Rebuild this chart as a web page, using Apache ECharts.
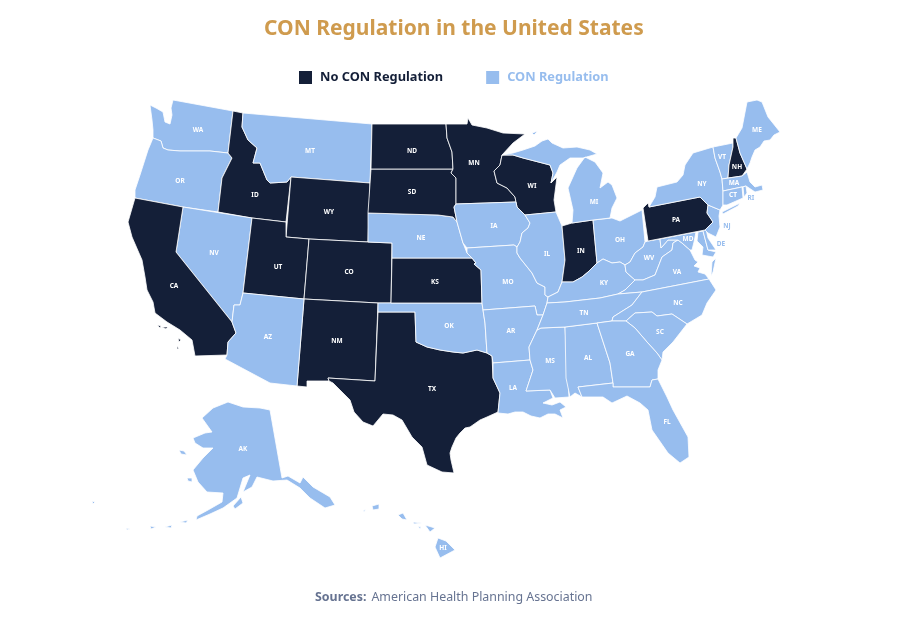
<!DOCTYPE html>
<html>
<head>
<meta charset="utf-8">
<title>CON Regulation in the United States</title>
<script src="https://cdn.jsdelivr.net/npm/echarts@6/dist/echarts.min.js"></script>
<style>
  html, body { margin: 0; padding: 0; background: #fff; }
  #chart { width: 904px; height: 622px; }
</style>
</head>
<body>
<div id="chart"></div>
<script>
// Categories
const noConStates = ['ID', 'WY', 'UT', 'CO', 'CA', 'NM', 'TX', 'KS', 'SD', 'ND', 'MN', 'WI', 'IN', 'PA', 'NH'];
const conStates = ['WA', 'OR', 'MT', 'NV', 'AZ', 'NE', 'OK', 'IA', 'MO', 'AR', 'LA', 'IL', 'MS', 'AL', 'TN', 'KY',
    'MI', 'OH', 'WV', 'VA', 'NC', 'SC', 'GA', 'FL', 'NY', 'VT', 'ME', 'MA', 'CT', 'RI', 'NJ', 'DE', 'MD', 'AK', 'HI'];
const offshoreLabels = ['RI', 'NJ', 'DE']; // these codes sit on the white sea, so they are tinted
const legendNames = ['No CON Regulation', 'CON Regulation'];

const DARK = '#141f38';
const LIGHT = '#97bdee';

// Simplified state outlines (basemap geometry, traced in page pixels; the map has no projection of its own)
const stateShapes = {
    WA: [[[173,100],[233,111],[228,153],[210,151],[193,151],[180,151],[168,150],[163,148],[161,141],[153,138],[153,130],[152,120],[150,105],[156,108],[163,112],[165,122],[170,124],[172,115],[171,108]]],
    OR: [[[153,138],[161,141],[163,148],[168,150],[180,151],[193,151],[210,151],[228,153],[232,158],[222,178],[218,212],[183,207],[135,198],[135,190],[140,175],[148,150]]],
    ID: [[[233,111],[243,113],[242,127],[248,140],[257,148],[253,163],[260,163],[267,180],[270,183],[287,182],[291,177],[286,222],[252,218],[218,212],[222,178],[232,158],[228,153]]],
    MT: [[[243,113],[372,124],[370,183],[291,177],[287,182],[270,183],[267,180],[260,163],[253,163],[257,148],[248,140],[242,127]]],
    WY: [[[291,177],[370,183],[368,242],[309,239],[286,237]]],
    NV: [[[183,207],[252,218],[243,293],[240,305],[234,305],[232,322],[176,252]]],
    CA: [[[135,198],[183,207],[176,252],[232,322],[236,333],[228,342],[227,355],[195,356],[192,340],[180,330],[167,322],[155,313],[153,302],[147,290],[145,277],[142,260],[132,237],[128,222]],
        [[157,325],[161,326],[160,328]], [[162,327],[168,327],[166,329]], [[178,338],[181,340],[179,342]], [[177,346],[179,349],[177,349]]],
    UT: [[[252,218],[286,222],[286,237],[309,239],[304,299],[243,293]]],
    CO: [[[309,239],[368,242],[392,243],[391,303],[378,303],[304,299]]],
    NM: [[[304,299],[378,303],[375,381],[328,378],[329,381],[307,381],[307,387],[297,386]]],
    AZ: [[[243,293],[304,299],[297,386],[270,383],[225,359],[227,355],[228,342],[236,333],[232,322],[234,305],[240,305]]],
    TX: [[[378,312],[415,312],[416,342],[427,347],[440,350],[453,352],[463,353],[477,350],[487,353],[492,356],[493,378],[500,393],[498,412],[487,417],[480,420],[470,427],[465,428],[460,433],[456,438],[452,447],[450,453],[451,460],[454,473],[442,472],[427,465],[422,447],[412,437],[402,420],[393,415],[383,414],[373,426],[363,422],[354,412],[350,400],[333,383],[329,381],[328,378],[375,381]]],
    OK: [[[378,303],[391,303],[482,303],[485,323],[487,353],[477,350],[463,353],[453,352],[440,350],[427,347],[416,342],[415,312],[378,312]]],
    KS: [[[392,258],[472,258],[476,263],[474,264],[481,270],[482,303],[391,303]]],
    NE: [[[368,213],[438,215],[453,217],[457,222],[463,243],[467,253],[472,258],[392,258],[392,243],[368,242]]],
    SD: [[[371,169],[453,169],[451,173],[456,178],[456,204],[454,207],[457,222],[453,217],[438,215],[368,213]]],
    ND: [[[372,124],[446,124],[447,138],[452,152],[453,169],[371,169]]],
    MN: [[[446,124],[467,124],[468,118],[472,125],[487,128],[503,133],[525,134],[513,143],[502,155],[500,165],[494,171],[497,183],[507,188],[515,197],[516,202],[456,204],[456,178],[451,173],[453,169],[452,152],[447,138]]],
    WI: [[[502,155],[513,155],[523,158],[550,165],[553,173],[551,183],[557,177],[554,200],[556,212],[525,215],[517,207],[516,202],[515,197],[507,188],[497,183],[494,171],[500,165]]],
    IA: [[[456,204],[516,202],[517,207],[525,215],[530,223],[528,228],[522,233],[520,242],[517,247],[514,245],[467,248],[463,243],[457,222],[454,207]]],
    MO: [[[467,248],[514,245],[517,247],[517,253],[520,258],[532,273],[537,283],[545,287],[545,295],[548,297],[547,303],[543,315],[537,315],[535,306],[483,310],[482,303],[481,270],[474,264],[476,263],[472,258],[467,253]]],
    IL: [[[525,215],[556,212],[562,226],[565,260],[562,282],[558,292],[548,297],[545,295],[545,287],[537,283],[532,273],[520,258],[517,253],[517,247],[520,242],[522,233],[528,228],[530,223]]],
    IN: [[[562,226],[572,223],[593,220],[597,263],[588,272],[582,277],[573,282],[562,282],[565,260]]],
    OH: [[[593,220],[612,218],[620,221],[628,217],[642,210],[645,242],[643,247],[635,253],[630,262],[625,265],[620,262],[612,263],[603,259],[597,263]]],
    KY: [[[597,263],[603,259],[612,263],[620,262],[625,265],[626,272],[635,280],[625,290],[618,294],[600,298],[565,302],[547,303],[548,297],[558,292],[562,282],[573,282],[582,277],[588,272]]],
    WV: [[[645,242],[648,241],[660,239],[661,248],[668,240],[678,240],[673,243],[672,250],[662,257],[655,275],[643,280],[635,280],[626,272],[625,265],[630,262],[635,253],[643,247]]],
    VA: [[[618,294],[625,290],[635,280],[643,280],[655,275],[662,257],[672,250],[673,243],[678,240],[682,243],[690,250],[695,260],[698,262],[694,266],[700,268],[698,272],[705,274],[709,279],[642,292]],
        [[712,262],[716,258],[713,272],[711,276]]],
    MD: [[[660,239],[696,232],[694,242],[692,250],[690,250],[682,243],[678,240],[668,240],[661,248]],
        [[698,232],[703,231],[708,250],[716,252],[713,257],[702,255],[703,247],[697,241]]],
    DE: [[[703,231],[706,229],[708,238],[716,250],[708,250]]],
    PA: [[[643,208],[648,203],[649,207],[700,197],[708,205],[707,213],[713,222],[705,230],[648,241]]],
    NJ: [[[708,205],[720,210],[719,216],[720,227],[716,237],[708,233],[705,230],[713,222],[707,213]]],
    NY: [[[649,207],[655,197],[657,187],[677,182],[683,175],[685,165],[693,153],[713,147],[715,158],[720,172],[722,179],[723,191],[723,205],[720,210],[708,205],[700,197]],
        [[722,212],[740,203],[738,206],[723,214]]],
    VT: [[[713,147],[733,143],[733,147],[729,165],[728,178],[722,179],[720,172],[715,158]]],
    NH: [[[733,138],[736,138],[740,153],[747,169],[742,176],[728,178],[729,165],[733,147]]],
    ME: [[[736,138],[742,128],[747,102],[757,100],[762,102],[768,117],[780,132],[774,135],[770,140],[764,141],[760,147],[755,150],[752,157],[750,163],[747,169],[740,153]]],
    MA: [[[722,179],[742,176],[747,172],[750,182],[755,187],[762,185],[763,190],[755,192],[752,190],[746,186],[723,191]]],
    CT: [[[723,191],[742,187],[743,198],[727,205],[723,205]]],
    RI: [[[743,187],[746,186],[747,193],[744,197]]],
    MI: [[[572,223],[593,220],[610,218],[612,208],[617,198],[612,185],[608,182],[600,188],[603,173],[595,162],[585,157],[577,168],[568,188],[573,210]],
        [[502,155],[513,153],[523,150],[535,146],[542,141],[548,139],[552,143],[563,148],[577,147],[590,150],[597,154],[583,158],[570,158],[560,165],[557,172],[551,183],[553,173],[550,165],[523,158],[513,155]],
        [[532,133],[538,131],[534,135]]],
    AR: [[[483,310],[535,306],[537,315],[543,315],[537,330],[529,347],[530,360],[493,363],[492,356],[487,353],[485,323]]],
    LA: [[[493,363],[530,360],[533,370],[526,391],[550,390],[553,398],[543,403],[552,405],[560,402],[566,407],[560,410],[563,418],[555,414],[548,414],[540,418],[531,416],[523,412],[515,412],[508,414],[498,413],[500,393],[493,378]]],
    MS: [[[541,328],[565,327],[569,397],[555,398],[550,390],[526,391],[533,370],[530,360],[529,347],[537,330]]],
    AL: [[[565,327],[597,323],[610,363],[613,383],[578,387],[582,397],[575,393],[570,397],[566,378]]],
    TN: [[[547,303],[565,302],[600,298],[618,294],[642,292],[632,305],[613,317],[612,321],[597,323],[565,327],[541,328],[537,330],[543,315]]],
    NC: [[[642,292],[709,279],[716,290],[707,303],[702,315],[687,324],[672,314],[657,316],[652,312],[635,313],[626,321],[612,321],[613,317],[632,305]]],
    SC: [[[626,321],[635,313],[652,312],[657,316],[672,314],[687,324],[673,342],[663,352],[662,360],[657,353],[647,342],[635,328]]],
    GA: [[[597,323],[612,321],[626,321],[635,328],[647,342],[657,353],[662,360],[658,370],[658,379],[652,380],[650,387],[613,387],[613,383],[610,363]]],
    FL: [[[578,387],[613,383],[613,387],[650,387],[652,380],[658,379],[667,397],[673,410],[688,437],[689,457],[680,463],[668,453],[652,430],[648,410],[640,403],[627,396],[612,403],[603,397],[583,397],[582,397]]],
    AK: [[[270,410],[282,478],[288,476],[300,483],[303,477],[313,487],[330,497],[335,505],[325,508],[310,498],[300,488],[287,480],[273,481],[257,477],[252,487],[243,492],[250,475],[243,478],[237,498],[223,508],[210,514],[196,520],[197,516],[208,510],[222,502],[223,493],[207,492],[198,482],[193,470],[203,458],[213,448],[203,448],[195,443],[193,438],[205,433],[212,432],[202,418],[213,408],[228,402],[243,407],[260,408]],
        [[179,450],[184,451],[187,455],[181,454]], [[187,478],[192,478],[192,482],[188,481]], [[233,506],[241,497],[243,503],[235,509]],
        [[180,522],[188,520],[186,523]], [[165,527],[172,525],[171,528]], [[150,526],[156,527],[151,529]], [[126,528],[130,529],[127,530]], [[92,501],[95,502],[93,504]]],
    HI: [[[438,538],[446,541],[455,550],[440,558],[435,547]], [[425,525],[435,528],[430,532]], [[413,522],[422,523],[414,524]],
        [[398,515],[403,513],[407,520],[402,519]], [[372,506],[379,504],[379,509],[373,510]], [[363,511],[366,509],[364,512]], [[418,526],[421,527],[420,529]]]
};

// Label anchors for the state codes
const labelPoints = {
    WA: [198,130], OR: [180,181], ID: [255,195], MT: [310,151], WY: [329,212], NV: [214,253], UT: [278,267], CO: [349,272],
    CA: [174,286], AZ: [268,337], NM: [337,341], ND: [412,151], SD: [412,192], NE: [421,238], KS: [435,282], MN: [474,163],
    WI: [532,186], IA: [494,226], IL: [547,254], IN: [581,251], MI: [594,202], OH: [620,240], KY: [604,283], TN: [584,313],
    WV: [649,258], VA: [677,272], NC: [678,303], SC: [660,332], GA: [630,354], AL: [588,358], MS: [550,361], LA: [513,388],
    AR: [511,331], MO: [508,282], OK: [449,326], TX: [432,389], FL: [667,422], PA: [676,220], NY: [702,184], ME: [757,130],
    VT: [722,157], NH: [737,167], MA: [734,183], CT: [733,195], RI: [751,198], NJ: [727,226], DE: [721,244], MD: [688,239],
    AK: [243,449], HI: [443,548]
};

const usGeo = {
    type: 'FeatureCollection',
    features: Object.keys(stateShapes).map(name => ({
        type: 'Feature',
        properties: { name, cp: labelPoints[name] },
        geometry: { type: 'MultiPolygon', coordinates: stateShapes[name].map(ring => [ring]) }
    }))
};
echarts.registerMap('USA', usGeo);

const chart = echarts.init(document.getElementById('chart'), null, { renderer: 'canvas' });
const font = '"Noto Sans", sans-serif';

function regionItem(name, value, color) {
    const item = { name, value, itemStyle: { areaColor: color } };
    if (offshoreLabels.includes(name)) item.label = { color: LIGHT };
    return item;
}

chart.setOption({
    animation: false,
    backgroundColor: '#fff',
    title: [
        {
            text: 'CON Regulation in the United States',
            left: 259, top: 14,
            textStyle: { color: '#cf9b4e', fontFamily: font, fontSize: 21, fontWeight: 700 }
        },
        {
            text: '{b|Sources:} {r|American Health Planning Association}',
            left: 310, top: 583,
            textStyle: {
                fontWeight: 400,
                rich: {
                    b: { color: '#667391', fontFamily: font, fontSize: 12.4, fontWeight: 700 },
                    r: { color: '#667391', fontFamily: font, fontSize: 12.4, fontWeight: 400 }
                }
            }
        }
    ],
    legend: {
        left: 294, top: 66, itemWidth: 13, itemHeight: 13, itemGap: 43, icon: 'rect',
        selectedMode: false,
        textStyle: { fontFamily: font, fontSize: 12.8, fontWeight: 700, padding: [0, 0, 0, 3] },
        data: [
            { name: legendNames[0], textStyle: { color: DARK } },
            { name: legendNames[1], textStyle: { color: LIGHT } }
        ]
    },
    series: [
        {
            type: 'map', map: 'USA', roam: false, silent: true, showLegendSymbol: false,
            projection: { project: p => p, unproject: p => p },
            boundingCoords: [[0, 0], [904, 622]],
            aspectScale: 1,
            left: 0, top: 0, width: 904, height: 622,
            label: { show: true, color: '#fff', fontFamily: font, fontSize: 6.5, fontWeight: 700 },
            itemStyle: { borderColor: '#fff', borderWidth: 0.8 },
            data: noConStates.map(name => regionItem(name, 0, DARK))
                .concat(conStates.map(name => regionItem(name, 1, LIGHT)))
        },
        // empty series, they only feed the legend
        { name: legendNames[0], type: 'scatter', data: [], itemStyle: { color: DARK, opacity: 1 }, xAxisIndex: 0, yAxisIndex: 0 },
        { name: legendNames[1], type: 'scatter', data: [], itemStyle: { color: LIGHT, opacity: 1 }, xAxisIndex: 0, yAxisIndex: 0 }
    ],
    xAxis: { show: false, type: 'value' },
    yAxis: { show: false, type: 'value' },
    grid: { show: false }
});

window.addEventListener('resize', () => chart.resize());
</script>
</body>
</html>
